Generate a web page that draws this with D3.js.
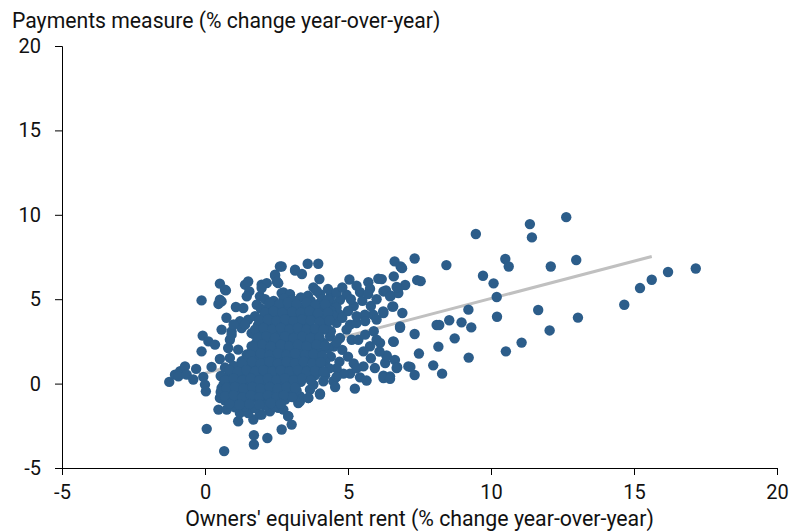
<!DOCTYPE html>
<html>
<head>
<meta charset="utf-8">
<script src="https://cdn.jsdelivr.net/npm/d3@7"></script>
<style>
  html, body { margin: 0; padding: 0; background: #fff; }
  svg { display: block; font-family: Roboto, "Noto Sans", sans-serif; }
</style>
</head>
<body>
<svg id="chart" width="801" height="531"></svg>
<script>
// ---- Data ----
const yTitle = "Payments measure (% change year-over-year)";
const xTitle = "Owners' equivalent rent (% change year-over-year)";
const xTicks = [-5, 0, 5, 10, 15, 20];
const yTicks = [-5, 0, 5, 10, 15, 20];

// Fitted line endpoints [x, y]
const fitLine = [[-0.2, 0.52], [15.62, 7.53]];

// Outlying points on the right
const rightPoints = [
  [11.36,9.45],[11.43,8.66],[12.63,9.86],[12.09,6.94],[12.98,7.32],[11.65,4.36],[13.04,3.91],
  [12.05,3.15],[11.07,2.43],[14.66,4.67],[15.21,5.66],[15.62,6.15],[16.19,6.61],[17.16,6.82],
  [9.47,8.86],[10.50,7.38],[10.62,6.94],[9.72,6.39],[10.09,5.94],[10.20,5.13],[10.21,3.96],
  [10.52,1.91],[9.21,4.38],[8.44,7.02],[8.54,3.75],[8.97,3.63],[9.31,3.33],[8.10,3.47],
  [8.19,3.47],[8.73,2.68],[8.16,2.19],[9.22,1.54],[7.98,1.08],[8.29,0.59],
  [7.33,7.41],[6.63,7.24],[6.84,6.94],[6.89,6.84],[6.60,6.35],[7.42,6.13],[7.54,6.07],
  [7.00,5.84],[6.76,5.66],[6.18,6.19],[6.24,5.46],[6.50,5.21],[6.76,5.36],[6.55,4.56],
  [6.90,4.18],[6.24,4.18],[6.82,3.31],[7.33,2.94],[6.60,2.47],[7.48,1.78],[6.35,1.67],
  [6.64,1.40],[6.30,1.22],[6.72,0.97],[7.18,0.99],[7.33,0.51],[6.12,2.41],[6.24,0.47],
  [6.47,0.43],[7.11,1.02]
];

// Points in the middle band
const midPoints = [
  [3.59,7.10],[3.96,7.10],[3.15,6.69],[3.39,6.49],[4.00,6.19],[5.05,6.17],[2.68,6.94],
  [5.71,6.01],[6.06,6.21],[3.79,5.70],[2.74,5.40],[2.97,5.30],[4.02,5.30],[5.42,5.42],
  [5.77,5.62],[6.33,5.52],[6.70,5.72],[6.47,5.17],[4.95,5.27],[4.72,4.97],[4.43,4.77],
  [3.15,4.54],[6.58,4.57],[6.23,4.28],[5.88,4.08],[5.59,4.08],[6.82,3.39],[6.58,2.50],
  [5.77,2.21],[5.54,1.91],[5.13,2.60],[5.36,2.60],[4.95,3.20],[4.72,2.70],[4.37,2.80],
  [4.14,2.41],[5.07,3.49],[5.30,3.59],[5.54,1.02],[5.94,0.92],[6.35,1.62],[6.70,0.92],
  [6.24,0.33],[6.47,0.29],[5.42,0.37],[5.65,0.18],[5.07,0.59],[4.84,0.59],[5.24,-0.30],
  [4.49,0.14],[4.55,-0.20],[4.14,0.14],[4.02,-0.59],[3.67,-0.36],[3.79,-0.06],[3.32,-0.75],
  [3.32,-1.05],[3.61,-0.85],[2.91,-1.93],[2.74,-1.54],
  [5.2,4.6],[5.5,4.9],[5.0,4.3],[4.7,4.1],[5.3,4.0],[4.6,3.6],[5.8,4.6],[6.0,5.0],
  [5.6,3.7],[6.0,3.8],[4.8,3.9],[5.1,5.0],[4.6,4.5],[4.4,5.2],[5.7,5.3],
  [4.5,2.2],[4.8,2.0],[5.0,1.6],[4.4,1.6],[4.7,1.3],[5.2,1.2],[5.8,1.5],[6.0,2.6],
  [5.6,2.9],[5.9,3.1],[4.6,0.9],[5.3,0.9],[4.2,0.5],[4.6,0.4],[6.1,1.9],
  [3.9,5.5],[4.3,5.6],[4.6,5.4],[4.1,5.0],[3.6,5.2],[5.3,5.8],[4.8,5.7]
];

// Points on the left and at the bottom
const leftPoints = [
  [-1.25,0.10],[-1.05,0.53],[-0.87,0.73],[-0.70,1.02],[-0.93,0.43],[-0.64,0.53],[-0.41,0.24],
  [-0.31,0.87],[-0.06,0.40],[0.00,-0.06],[0.03,-0.46],[0.23,0.99],[-0.12,1.91],[-0.08,2.84],
  [0.12,2.50],[0.35,2.31],[0.58,3.20],[0.93,3.09],[0.87,2.60],[0.81,2.11],[1.16,2.01],
  [1.46,1.72],[1.63,2.21],[0.52,1.46],[0.87,1.52],[1.28,1.32],[-0.12,4.93],[0.52,5.92],
  [0.73,5.52],[0.47,4.72],[0.58,4.87],[1.08,4.54],[1.34,4.48],[1.40,5.86],[1.51,6.05],
  [1.55,5.46],[1.22,3.69],[1.51,3.79],[1.63,2.99],[1.28,3.29],[1.40,3.49],[1.98,5.86],
  [2.16,5.95],[1.92,5.17],[2.45,6.45],[2.56,5.95],[1.81,4.67],[2.68,5.36],[0.06,-2.68],
  [0.67,-4.00],[1.71,-3.06],[1.71,-3.61],[2.18,-3.22],[2.68,-2.72],[1.16,-2.23],[1.69,-2.13],
  [0.47,-1.54],[0.52,-0.85],[0.58,-0.26],[0.76,-1.54],[0.93,-1.15],[1.22,-1.74],[1.51,-1.74],
  [1.92,-1.83],[2.27,-1.64],[2.56,-1.44],[2.91,-1.93],[3.03,-2.43],[1.98,-1.83],[3.26,-1.15],
  [3.61,-0.85],[4.02,-0.65],
  [2.62,6.94],[3.15,6.75],[2.45,6.39],[0.70,5.56],[2.51,6.05],[0.52,4.97],
  [1.46,5.17],[1.98,5.66],[2.97,5.27],[0.93,2.90],[0.75,3.9],[1.0,3.5]
];

// Dense core of the cloud
const corePoints = [
  [2.1,5.0],[2.4,4.9],[2.75,5.05],[3.05,4.95],[3.35,5.1],[3.7,4.9],[4.0,4.75],[4.3,4.95],
  [1.95,4.45],[2.25,4.6],[2.55,4.4],[2.85,4.55],[3.2,4.4],[3.5,4.6],[3.8,4.35],[4.1,4.5],[4.4,4.3],
  [1.75,4.0],[2.05,3.9],[2.35,4.1],[2.65,3.95],[2.95,4.05],[3.25,3.9],[3.55,4.1],[3.85,3.95],[4.15,3.85],[4.45,4.05],
  [1.85,3.45],[2.15,3.6],[2.45,3.4],[2.75,3.55],[3.05,3.4],[3.35,3.6],[3.65,3.45],[3.95,3.3],[4.25,3.5],
  [1.7,2.95],[2.0,3.1],[2.3,2.9],[2.6,3.05],[2.9,2.95],[3.2,3.1],[3.5,2.9],[3.8,3.0],[4.4,3.1],
  [1.8,2.45],[2.1,2.6],[2.4,2.4],[2.7,2.55],[3.0,2.45],[3.3,2.6],[3.6,2.4],[4.6,2.45],
  [1.65,1.95],[1.95,2.1],[2.25,1.9],[2.55,2.05],[2.85,1.95],[3.15,2.1],[3.45,1.9],[3.75,2.0],[4.05,1.85],[4.3,2.1],
  [1.5,1.45],[1.8,1.6],[2.1,1.4],[2.4,1.55],[2.7,1.45],[3.0,1.6],[3.3,1.4],[3.6,1.55],[3.9,1.45],[4.2,1.3],
  [0.7,0.95],[1.0,1.05],[1.3,0.9],[1.6,1.05],[1.9,0.95],[2.2,1.1],[2.5,0.9],[2.8,1.05],[3.1,0.95],[3.4,1.1],[3.7,0.9],[4.0,1.0],[4.35,0.9],
  [0.55,0.45],[0.85,0.6],[1.15,0.4],[1.45,0.55],[1.75,0.45],[2.05,0.6],[2.35,0.4],[2.65,0.55],[2.95,0.45],[3.25,0.6],[3.55,0.4],[3.85,0.5],
  [0.65,-0.05],[0.95,0.1],[1.25,-0.1],[1.55,0.05],[1.85,-0.05],[2.15,0.1],[2.45,-0.1],[2.75,0.05],[3.05,-0.05],[3.35,0.1],
  [0.55,-0.5],[0.85,-0.4],[1.15,-0.6],[1.45,-0.45],[1.75,-0.55],[2.05,-0.4],[2.35,-0.6],[2.65,-0.45],[2.95,-0.55],[3.2,-0.4],
  [0.7,-1.0],[1.0,-0.9],[1.3,-1.1],[1.6,-0.95],[1.9,-1.05],[2.2,-0.9],[2.5,-1.1],[2.8,-0.95],[3.05,-0.8],
  [1.05,-1.4],[1.4,-1.35],[1.75,-1.45],[2.1,-1.3],[2.45,-1.35]
];

// Extra points filling the gaps of the core
const corePoints2 = [
  [2.25,4.75],[2.6,4.7],[2.9,4.8],[3.2,4.7],[3.55,4.8],[3.85,4.65],[4.2,4.7],
  [2.1,4.2],[2.4,4.3],[2.7,4.2],[3.05,4.25],[3.35,4.2],[3.65,4.3],[3.95,4.15],[4.3,4.2],
  [1.9,3.75],[2.2,3.8],[2.5,3.7],[2.8,3.8],[3.1,3.7],[3.4,3.8],[3.7,3.75],[4.0,3.65],[4.35,3.75],
  [1.75,3.2],[2.05,3.3],[2.35,3.2],[2.65,3.3],[2.95,3.2],[3.25,3.3],[3.55,3.2],[3.85,3.25],[4.15,3.2],
  [1.85,2.7],[2.15,2.8],[2.45,2.7],[2.8,2.8],[3.1,2.7],[3.4,2.8],[3.7,2.7],[4.0,2.75],
  [1.7,2.2],[2.0,2.3],[2.3,2.2],[2.65,2.3],[2.95,2.2],[3.25,2.3],[3.55,2.2],[3.9,2.3],[4.2,2.25],
  [1.6,1.7],[1.95,1.8],[2.25,1.7],[2.55,1.8],[2.85,1.7],[3.15,1.8],[3.5,1.7],[3.8,1.75],[4.1,1.65],
  [1.3,1.2],[1.65,1.3],[1.95,1.2],[2.25,1.3],[2.55,1.2],[2.85,1.3],[3.15,1.2],[3.45,1.3],[3.75,1.2],[4.05,1.25],
  [0.85,0.8],[1.15,0.7],[1.45,0.8],[1.75,0.7],[2.05,0.8],[2.35,0.7],[2.65,0.8],[2.95,0.7],[3.25,0.8],[3.55,0.7],[3.85,0.75],[4.15,0.7],
  [0.7,0.2],[1.0,0.3],[1.3,0.2],[1.6,0.3],[1.9,0.2],[2.2,0.3],[2.5,0.2],[2.8,0.3],[3.1,0.2],[3.4,0.3],[3.7,0.2],
  [0.75,-0.25],[1.05,-0.2],[1.35,-0.3],[1.65,-0.2],[1.95,-0.3],[2.25,-0.2],[2.55,-0.3],[2.85,-0.2],[3.15,-0.25],
  [0.7,-0.75],[1.0,-0.7],[1.3,-0.8],[1.6,-0.7],[1.9,-0.8],[2.2,-0.7],[2.5,-0.8],[2.75,-0.7],
  [0.85,-1.2],[1.2,-1.25],[1.55,-1.2],[1.9,-1.25],[2.3,-1.15],[2.65,-1.2]
];

const allPoints = [].concat(rightPoints, midPoints, leftPoints, corePoints, corePoints2);

// ---- Layout ----
const svg = d3.select("#chart");
const plot = { left: 62, right: 777, top: 46, bottom: 468 };
const dotColor = "#2c5d8a";
const lineColor = "#c0c0c0";

const x = d3.scaleLinear().domain([-5, 20]).range([plot.left, plot.right]);
const y = d3.scaleLinear().domain([-5, 20]).range([plot.bottom, plot.top]);

// Axes
const yAxis = d3.axisLeft(y).tickValues(yTicks).tickSize(7).tickPadding(14).tickFormat(d3.format("d"));
const xAxis = d3.axisBottom(x).tickValues(xTicks).tickSize(7).tickPadding(10).tickFormat(d3.format("d"));

const gy = svg.append("g").attr("transform", `translate(${plot.left},0)`).call(yAxis);
const gx = svg.append("g").attr("transform", `translate(0,${plot.bottom})`).call(xAxis);

[gx, gy].forEach(g => {
  g.selectAll("path.domain").attr("stroke", "#000").attr("stroke-width", 1);
  g.selectAll(".tick line").attr("stroke", "#000").attr("stroke-width", 1);
  g.selectAll(".tick text")
    .attr("fill", "#111")
    .style("font-size", "20px")
    .style("font-family", "Roboto, sans-serif");
});
gx.selectAll(".tick text").text(d => d < 0 ? "-" + Math.abs(d) : d);
gy.selectAll(".tick text").text(d => d < 0 ? "-" + Math.abs(d) : d);

// Fitted line (beneath dots)
svg.append("line")
  .attr("x1", x(fitLine[0][0])).attr("y1", y(fitLine[0][1]))
  .attr("x2", x(fitLine[1][0])).attr("y2", y(fitLine[1][1]))
  .attr("stroke", lineColor).attr("stroke-width", 3);

// Dots
svg.append("g").selectAll("circle")
  .data(allPoints)
  .join("circle")
  .attr("cx", d => x(d[0]))
  .attr("cy", d => y(d[1]))
  .attr("r", 5.2)
  .attr("fill", dotColor);

// Titles
svg.append("text")
  .attr("x", 12).attr("y", 28)
  .attr("fill", "#111")
  .style("font-size", "21.2px")
  .text(yTitle);

svg.append("text")
  .attr("x", (plot.left + plot.right) / 2).attr("y", 526)
  .attr("text-anchor", "middle")
  .attr("fill", "#111")
  .style("font-size", "21.3px")
  .text(xTitle);
</script>
</body>
</html>
